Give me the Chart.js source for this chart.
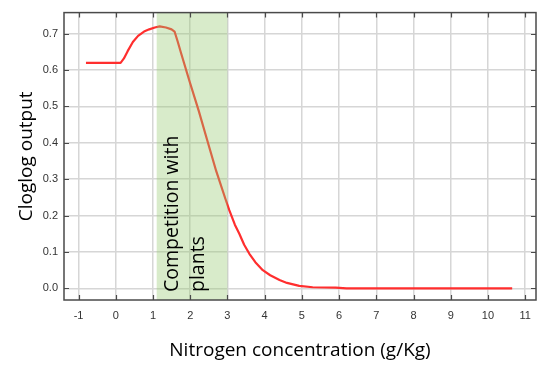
<!DOCTYPE html>
<html>
<head>
<meta charset="utf-8">
<script src="https://cdn.jsdelivr.net/npm/chart.js@4/dist/chart.umd.min.js"></script>
<style>
  html, body { margin: 0; padding: 0; background: #ffffff; }
  #wrap { width: 552px; height: 368px; }
</style>
</head>
<body>
<div id="wrap"><canvas id="chart" width="552" height="368"></canvas></div>
<script>
// Nitrogen concentration (g/Kg) and model response
const nitrogen = [-0.8, 0.13, 0.22, 0.32, 0.46, 0.6, 0.76, 0.9, 1.05, 1.18, 1.35, 1.5, 1.58, 1.66, 1.76,
                  1.98, 2.23, 2.45, 2.7, 2.95, 3.05, 3.2, 3.32, 3.45, 3.59, 3.75, 3.95, 4.15, 4.4, 4.6,
                  4.93, 5.29, 5.91, 6.2, 10.65];
const cloglog = [0.62, 0.62, 0.632, 0.652, 0.677, 0.694, 0.706, 0.712, 0.717, 0.72, 0.717, 0.712, 0.706, 0.68, 0.645,
                 0.57, 0.488, 0.41, 0.322, 0.245, 0.215, 0.175, 0.15, 0.12, 0.095, 0.072, 0.05, 0.036, 0.023, 0.015,
                 0.007, 0.003, 0.002, 0, 0];

// Axis ticks
const xTicks = [-1, 0, 1, 2, 3, 4, 5, 6, 7, 8, 9, 10, 11];
const yTicks = [0, 0.1, 0.2, 0.3, 0.4, 0.5, 0.6, 0.7];

// Shaded range and its caption
const bandRange = [1.1, 3.0];
const bandCaption = ['Competition with', 'plants'];

const titleFont = { family: '"Open Sans", sans-serif', size: 19 };
const captionFont = { family: '"Open Sans", sans-serif', size: 19.5 };
const tickFont = { family: '"Liberation Sans", Arial, sans-serif', size: 11 };

// Draws the shaded range over the curve, then the frame with inward ticks, then the caption
const overlay = {
  id: 'overlay',
  afterDatasetsDraw(chart) {
    const { ctx, chartArea: a, scales: { x, y } } = chart;
    ctx.save();
    // shaded range
    const x0 = x.getPixelForValue(bandRange[0]);
    const x1 = x.getPixelForValue(bandRange[1]);
    ctx.fillStyle = 'rgba(150, 200, 110, 0.37)';
    ctx.fillRect(x0, a.top, x1 - x0, a.bottom - a.top);

    // frame
    ctx.strokeStyle = '#4a4a4a';
    ctx.lineWidth = 1.5;
    ctx.strokeRect(a.left, a.top, a.right - a.left, a.bottom - a.top);

    // inward tick marks on all four sides
    ctx.lineWidth = 1.2;
    ctx.beginPath();
    const t = 5;
    x.ticks.forEach(tk => {
      const px = Math.round(x.getPixelForValue(tk.value)) + 0.5;
      ctx.moveTo(px, a.bottom); ctx.lineTo(px, a.bottom - t);
      ctx.moveTo(px, a.top); ctx.lineTo(px, a.top + t);
    });
    y.ticks.forEach(tk => {
      const py = Math.round(y.getPixelForValue(tk.value)) + 0.5;
      ctx.moveTo(a.left, py); ctx.lineTo(a.left + t, py);
      ctx.moveTo(a.right, py); ctx.lineTo(a.right - t, py);
    });
    ctx.stroke();

    // caption inside the shaded range
    ctx.fillStyle = '#000000';
    ctx.font = `${captionFont.size}px ${captionFont.family}`;
    ctx.textAlign = 'left';
    ctx.textBaseline = 'middle';
    bandCaption.forEach((line, i) => {
      ctx.save();
      ctx.translate(x0 + 16 + i * 26, a.bottom - 8);
      ctx.rotate(-Math.PI / 2);
      ctx.fillText(line, 0, 0);
      ctx.restore();
    });
    ctx.restore();
  }
};

new Chart(document.getElementById('chart'), {
  type: 'scatter',
  data: {
    datasets: [{
      data: nitrogen.map((v, i) => ({ x: v, y: cloglog[i] })),
      showLine: true,
      borderColor: '#ff2e2e',
      borderWidth: 2.2,
      pointRadius: 0,
      tension: 0,
      borderJoinStyle: 'round',
      clip: false
    }]
  },
  options: {
    responsive: false,
    animation: false,
    layout: { padding: { left: 0, right: 16, top: 10, bottom: 0 } },
    plugins: { legend: { display: false }, tooltip: { enabled: false } },
    scales: {
      x: {
        type: 'linear',
        min: -1.39,
        max: 11.29,
        afterBuildTicks: s => { s.ticks = xTicks.map(v => ({ value: v })); },
        afterFit: s => { s.height = 68; },
        grid: { color: '#d6d6d6', lineWidth: 1.5, drawTicks: false },
        border: { display: false },
        ticks: { font: tickFont, color: '#333333', padding: 9, maxRotation: 0, callback: v => String(v) },
        title: { display: true, text: 'Nitrogen concentration (g/Kg)', font: titleFont, color: '#000000', padding: { top: 0, bottom: 6 } }
      },
      y: {
        type: 'linear',
        min: -0.032,
        max: 0.758,
        afterBuildTicks: s => { s.ticks = yTicks.map(v => ({ value: v })); },
        afterFit: s => { s.width = 64; },
        grid: { color: '#d6d6d6', lineWidth: 1.5, drawTicks: false },
        border: { display: false },
        ticks: { font: tickFont, color: '#333333', padding: 6, callback: v => Number(v).toFixed(1) },
        title: { display: true, text: 'Cloglog output', font: titleFont, color: '#000000', padding: { top: 15, bottom: 0 } }
      }
    }
  },
  plugins: [overlay]
});
</script>
</body>
</html>
